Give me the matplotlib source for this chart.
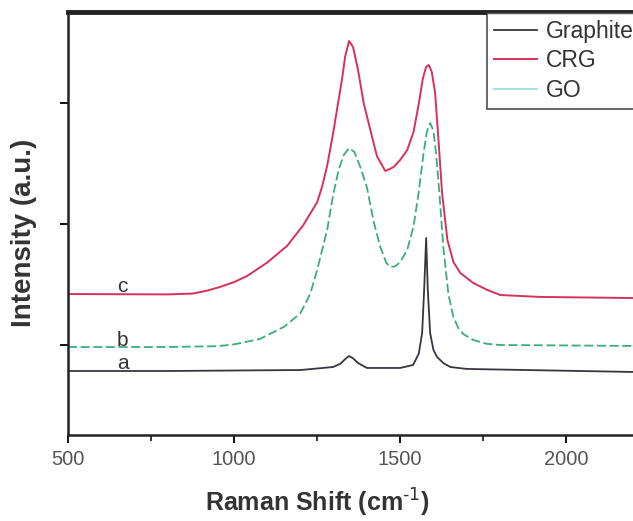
import matplotlib.pyplot as plt
from matplotlib.ticker import MultipleLocator

plt.rcParams['font.family'] = ['Liberation Sans', 'DejaVu Sans']

# Raman spectra (a.u.)
graphite_x = [500, 800, 1200, 1298, 1320, 1335, 1346, 1358, 1373, 1400, 1500, 1539, 1556, 1566,
              1572, 1578, 1583, 1590, 1600, 1611, 1630, 1651, 1700, 2200, 2300]
graphite_y = [785, 785, 793, 818, 845, 885, 909, 890, 851, 810, 810, 835, 930, 1099,
              1455, 1884, 1455, 1099, 959, 901, 850, 818, 802, 777, 777]

go_x = [500, 800, 950, 1000, 1078, 1150, 1199, 1229, 1250, 1280, 1298, 1315, 1330, 1346, 1362,
        1380, 1400, 1420, 1440, 1458, 1470, 1485, 1500, 1521, 1540, 1555, 1570, 1580, 1590, 1600,
        1608, 1618, 1630, 1645, 1660, 1675, 1690, 1720, 1760, 1800, 2200, 2300]
go_y = [983, 983, 990, 1005, 1050, 1150, 1260, 1421, 1620, 1950, 2240, 2450, 2570, 2628, 2595,
        2470, 2300, 2020, 1810, 1680, 1645, 1650, 1686, 1785, 1980, 2250, 2580, 2760, 2835, 2770,
        2580, 2250, 1800, 1420, 1231, 1140, 1090, 1041, 1010, 1000, 992, 992]

crg_x = [500, 800, 876, 920, 958, 1000, 1039, 1099, 1160, 1208, 1250, 1265, 1280, 1298, 1313,
         1325, 1334, 1346, 1358, 1373, 1390, 1410, 1430, 1455, 1480, 1500, 1521, 1540, 1555, 1568,
         1578, 1586, 1595, 1605, 1615, 1626, 1642, 1660, 1681, 1720, 1762, 1801, 1922, 2200, 2300]
crg_y = [1421, 1418, 1425, 1450, 1480, 1520, 1570, 1680, 1820, 1990, 2180, 2310, 2480, 2750, 3000,
         3200, 3380, 3512, 3463, 3273, 3000, 2777, 2560, 2438, 2470, 2530, 2611, 2760, 2980, 3200,
         3300, 3314, 3256, 3083, 2700, 2256, 1868, 1686, 1595, 1512, 1455, 1413, 1397, 1388, 1388]

fig = plt.figure(figsize=(6.33, 5.21), dpi=100)
# axes run past the right edge of the picture, as in the cropped original
ax = fig.add_axes([68/633, 86/521, 598/633, 423/521])

ax.plot(graphite_x, graphite_y, color='#3a3440', lw=1.3, label='Graphite')
ax.plot(crg_x, crg_y, color='#d8305c', lw=1.4, label='CRG')
ax.plot(go_x, go_y, color='#3aae7a', lw=1.3, ls=(0, (5, 2)), label='GO')

ax.set_xlim(500, 2300)
ax.set_ylim(256, 3752)
ax.xaxis.set_major_locator(MultipleLocator(500))
ax.xaxis.set_minor_locator(MultipleLocator(250))
ax.yaxis.set_major_locator(MultipleLocator(1000))
ax.set_yticklabels([])
ax.tick_params(axis='x', which='major', direction='out', length=6, width=1.3,
               labelsize=14.5, labelcolor='#555555', pad=5)
ax.tick_params(axis='x', which='minor', direction='out', length=4, width=1.1)
ax.tick_params(axis='y', direction='out', length=6, width=1.3)

for s in ax.spines.values():
    s.set_linewidth(1.8)
    s.set_color('#222222')
ax.spines['top'].set_linewidth(3.5)

ax.text(648, 1438, 'c', fontsize=15, color='#333333', va='baseline')
ax.text(648, 992, 'b', fontsize=15, color='#333333', va='baseline')
ax.text(648, 800, 'a', fontsize=15, color='#333333', va='baseline')

fig.text(24/633, 1 - 233/521, 'Intensity (a.u.)', rotation=90, ha='center', va='center',
         fontsize=20, fontweight='bold', color='#333333')
fig.text(317/633, 1 - 503/521, r'Raman Shift (cm$^{\text{-1}}$)', ha='center', va='center',
         fontsize=18, fontweight='bold', color='#333333')

leg = fig.legend(loc='upper left', bbox_to_anchor=(487/633, 1 - 13/521), fontsize=16.5,
                 frameon=True, fancybox=False, handlelength=1.9, handletextpad=0.35,
                 borderpad=0.3, labelspacing=0.28, borderaxespad=0)
leg.get_frame().set_edgecolor('#333333')
leg.get_frame().set_linewidth(1.3)
leg.get_lines()[2].set_color('#9ddede')
leg.get_lines()[2].set_linestyle('-')
for t in leg.get_texts():
    t.set_color('#333333')

fig.savefig('out.png', dpi=100)
